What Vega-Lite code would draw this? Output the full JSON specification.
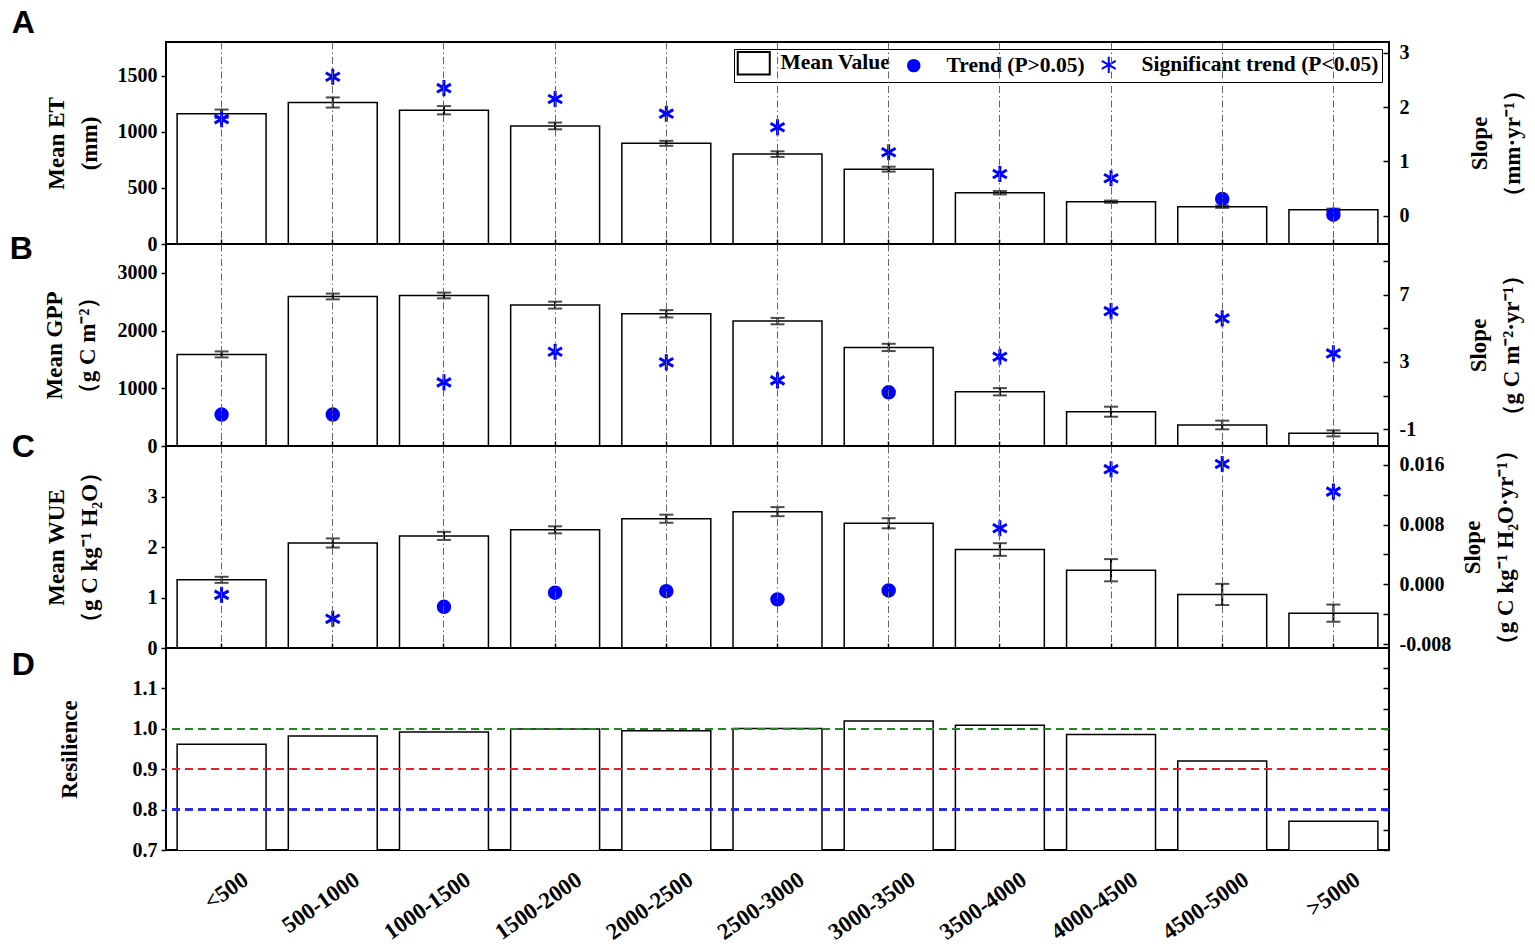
{
  "$schema": "https://vega.github.io/schema/vega-lite/v6.json",
  "padding": {"left": 8, "top": 6, "right": 2, "bottom": 4},
  "bounds": "flush",
  "spacing": 0,
  "datasets": {
    "zones": [
      {"cat": "<500", "et": 1160, "et_e": 38, "et_s": 1.78, "et_t": "Significant trend (P<0.05)", "gpp": 1587, "gpp_e": 52, "gpp_s": -0.13, "gpp_t": "Trend (P>0.05)", "wue": 1.35, "wue_e": 0.06, "wue_s": -0.0014, "wue_t": "Significant trend (P<0.05)", "res": 0.962},
      {"cat": "500-1000", "et": 1261, "et_e": 45, "et_s": 2.56, "et_t": "Significant trend (P<0.05)", "gpp": 2591, "gpp_e": 50, "gpp_s": -0.13, "gpp_t": "Trend (P>0.05)", "wue": 2.08, "wue_e": 0.09, "wue_s": -0.0046, "wue_t": "Significant trend (P<0.05)", "res": 0.982},
      {"cat": "1000-1500", "et": 1192, "et_e": 37, "et_s": 2.35, "et_t": "Significant trend (P<0.05)", "gpp": 2608, "gpp_e": 50, "gpp_s": 1.78, "gpp_t": "Significant trend (P<0.05)", "wue": 2.22, "wue_e": 0.08, "wue_s": -0.003, "wue_t": "Trend (P>0.05)", "res": 0.992},
      {"cat": "1500-2000", "et": 1052, "et_e": 30, "et_s": 2.15, "et_t": "Significant trend (P<0.05)", "gpp": 2441, "gpp_e": 60, "gpp_s": 3.6, "gpp_t": "Significant trend (P<0.05)", "wue": 2.34, "wue_e": 0.07, "wue_s": -0.0011, "wue_t": "Trend (P>0.05)", "res": 0.9995},
      {"cat": "2000-2500", "et": 897, "et_e": 22, "et_s": 1.88, "et_t": "Significant trend (P<0.05)", "gpp": 2291, "gpp_e": 63, "gpp_s": 2.97, "gpp_t": "Significant trend (P<0.05)", "wue": 2.56, "wue_e": 0.08, "wue_s": -0.0009, "wue_t": "Trend (P>0.05)", "res": 0.995},
      {"cat": "2500-3000", "et": 801, "et_e": 25, "et_s": 1.63, "et_t": "Significant trend (P<0.05)", "gpp": 2164, "gpp_e": 55, "gpp_s": 1.9, "gpp_t": "Significant trend (P<0.05)", "wue": 2.7, "wue_e": 0.09, "wue_s": -0.002, "wue_t": "Trend (P>0.05)", "res": 1.001},
      {"cat": "3000-3500", "et": 667, "et_e": 22, "et_s": 1.17, "et_t": "Significant trend (P<0.05)", "gpp": 1708, "gpp_e": 63, "gpp_s": 1.19, "gpp_t": "Trend (P>0.05)", "wue": 2.47, "wue_e": 0.1, "wue_s": -0.0008, "wue_t": "Trend (P>0.05)", "res": 1.019},
      {"cat": "3500-4000", "et": 457, "et_e": 15, "et_s": 0.77, "et_t": "Significant trend (P<0.05)", "gpp": 940, "gpp_e": 63, "gpp_s": 3.3, "gpp_t": "Significant trend (P<0.05)", "wue": 1.95, "wue_e": 0.125, "wue_s": 0.0075, "wue_t": "Significant trend (P<0.05)", "res": 1.009},
      {"cat": "4000-4500", "et": 377, "et_e": 10, "et_s": 0.69, "et_t": "Significant trend (P<0.05)", "gpp": 594, "gpp_e": 87, "gpp_s": 6.01, "gpp_t": "Significant trend (P<0.05)", "wue": 1.54, "wue_e": 0.22, "wue_s": 0.0154, "wue_t": "Significant trend (P<0.05)", "res": 0.986},
      {"cat": "4500-5000", "et": 332, "et_e": 10, "et_s": 0.31, "et_t": "Trend (P>0.05)", "gpp": 364, "gpp_e": 75, "gpp_s": 5.58, "gpp_t": "Significant trend (P<0.05)", "wue": 1.06, "wue_e": 0.21, "wue_s": 0.0161, "wue_t": "Significant trend (P<0.05)", "res": 0.92},
      {"cat": ">5000", "et": 305, "et_e": 10, "et_s": 0.02, "et_t": "Trend (P>0.05)", "gpp": 219, "gpp_e": 52, "gpp_s": 3.5, "gpp_t": "Significant trend (P<0.05)", "wue": 0.69, "wue_e": 0.17, "wue_s": 0.0124, "wue_t": "Significant trend (P<0.05)", "res": 0.771}
    ]
  },
  "data": {"name": "zones"},
  "resolve": {
    "scale": {"shape": "independent", "fill": "independent", "stroke": "independent"},
    "legend": {"shape": "independent", "fill": "independent", "stroke": "independent"}
  },
  "vconcat": [
    {
      "width": 1223,
      "height": 202,
      "title": {"text": "A", "orient": "left", "anchor": "end", "angle": 0, "align": "right", "baseline": "top", "font": "Liberation Sans", "fontSize": 32, "fontWeight": "bold", "color": "black", "offset": 0, "dx": 13, "dy": -34},
      "layer": [
        {
          "layer": [
            {
              "mark": {"type": "bar", "fill": "white", "stroke": "black", "strokeWidth": 1.5},
              "encoding": {
                "x": {"field": "cat", "type": "nominal", "sort": null, "scale": {"paddingInner": 0.2, "paddingOuter": 0.1},
                  "axis": {"orient": "bottom", "labels": false, "ticks": true, "tickSize": -5, "grid": true, "gridDash": [7, 3, 1.5, 3], "gridColor": "#666666", "gridWidth": 1, "title": null, "zindex": 1}},
                "y": {"field": "et", "type": "quantitative", "scale": {"domain": [0, 1800]},
                  "axis": {"orient": "left", "values": [0, 500, 1000, 1500], "format": "d", "tickSize": 5, "labelPadding": 4, "titlePadding": 16, "title": ["Mean ET", "(mm)"]}}
              }
            },
            {
              "mark": {"type": "errorbar", "color": "black", "ticks": {"size": 14, "thickness": 2, "color": "black"}, "rule": {"strokeWidth": 2, "color": "black"}},
              "encoding": {
                "x": {"field": "cat", "type": "nominal", "sort": null},
                "y": {"field": "et", "type": "quantitative", "axis": null},
                "yError": {"field": "et_e"}
              }
            }
          ],
          "resolve": {"axis": {"y": "independent"}}
        },
        {
          "mark": {"type": "point", "filled": true, "strokeWidth": 3, "size": 132, "opacity": 1},
          "encoding": {
            "x": {"field": "cat", "type": "nominal", "sort": null},
            "y": {"field": "et_s", "type": "quantitative", "scale": {"domain": [-0.52, 3.2]},
              "axis": {"orient": "right", "values": [0, 1, 2, 3], "format": "d", "tickSize": -6, "labelPadding": 16, "titlePadding": 26, "titleAngle": -90, "titleBaseline": "top", "title": ["Slope", "（mm·yr⁻¹）"]}},
            "shape": {"field": "et_t", "type": "nominal",
              "scale": {"domain": ["Mean Value", "Trend (P>0.05)", "Significant trend (P<0.05)"], "range": ["M-1.74,-1.96H3.83V1.96H-1.74Z", "circle", "M0,-1.4V1.4M-1.212,-0.7L1.212,0.7M-1.212,0.7L1.212,-0.7"]},
              "legend": {
                "orient": "top-right", "offset": 7, "direction": "horizontal", "title": null,
                "strokeColor": "black", "fillColor": "white", "padding": 3,
                "labelFont": "Liberation Serif", "labelFontWeight": "bold", "labelFontSize": 21.5, "labelColor": "black", "labelLimit": 400,
                "labelOffset": 22, "symbolSize": 132, "columnPadding": 12, "symbolStrokeWidth": 2
              }},
            "fill": {"field": "et_t", "type": "nominal",
              "scale": {"domain": ["Mean Value", "Trend (P>0.05)", "Significant trend (P<0.05)"], "range": ["white", "blue", "blue"]},
              "legend": {
                "orient": "top-right", "offset": 7, "direction": "horizontal", "title": null,
                "strokeColor": "black", "fillColor": "white", "padding": 3,
                "labelFont": "Liberation Serif", "labelFontWeight": "bold", "labelFontSize": 21.5, "labelColor": "black", "labelLimit": 400,
                "labelOffset": 22, "symbolSize": 132, "columnPadding": 12, "symbolStrokeWidth": 2
              }},
            "stroke": {"field": "et_t", "type": "nominal",
              "scale": {"domain": ["Mean Value", "Trend (P>0.05)", "Significant trend (P<0.05)"], "range": ["black", "blue", "blue"]},
              "legend": {
                "orient": "top-right", "offset": 7, "direction": "horizontal", "title": null,
                "strokeColor": "black", "fillColor": "white", "padding": 3,
                "labelFont": "Liberation Serif", "labelFontWeight": "bold", "labelFontSize": 21.5, "labelColor": "black", "labelLimit": 400,
                "labelOffset": 22, "symbolSize": 132, "columnPadding": 12, "symbolStrokeWidth": 2
              }}
          }
        }
      ],
      "resolve": {"scale": {"y": "independent"}}
    },
    {
      "width": 1223,
      "height": 202,
      "title": {"text": "B", "orient": "left", "anchor": "end", "angle": 0, "align": "right", "baseline": "top", "font": "Liberation Sans", "fontSize": 32, "fontWeight": "bold", "color": "black", "offset": 0, "dx": 13, "dy": -10},
      "layer": [
        {
          "layer": [
            {
              "mark": {"type": "bar", "fill": "white", "stroke": "black", "strokeWidth": 1.5},
              "encoding": {
                "x": {"field": "cat", "type": "nominal", "sort": null, "scale": {"paddingInner": 0.2, "paddingOuter": 0.1},
                  "axis": {"orient": "bottom", "labels": false, "ticks": true, "tickSize": -5, "grid": true, "gridDash": [7, 3, 1.5, 3], "gridColor": "#666666", "gridWidth": 1, "title": null, "zindex": 1}},
                "y": {"field": "gpp", "type": "quantitative", "scale": {"domain": [0, 3500]},
                  "axis": {"orient": "left", "values": [0, 1000, 2000, 3000], "format": "d", "tickSize": 5, "labelPadding": 4, "titlePadding": 18, "title": ["Mean GPP", "（g C m⁻²）"]}}
              }
            },
            {
              "mark": {"type": "errorbar", "color": "black", "ticks": {"size": 14, "thickness": 2, "color": "black"}, "rule": {"strokeWidth": 2, "color": "black"}},
              "encoding": {
                "x": {"field": "cat", "type": "nominal", "sort": null},
                "y": {"field": "gpp", "type": "quantitative", "axis": null},
                "yError": {"field": "gpp_e"}
              }
            }
          ],
          "resolve": {"axis": {"y": "independent"}}
        },
        {
          "mark": {"type": "point", "filled": true, "fill": "blue", "stroke": "blue", "strokeWidth": 3, "size": 132, "opacity": 1},
          "encoding": {
            "x": {"field": "cat", "type": "nominal", "sort": null},
            "y": {"field": "gpp_s", "type": "quantitative", "scale": {"domain": [-2, 10]},
              "axis": {"orient": "right", "values": [-1, 1, 3, 5, 7, 9], "format": "d", "labelExpr": "(datum.value + 1) % 4 === 0 ? replace(datum.label, '−', '-') : ''", "tickSize": -6, "labelPadding": 16, "titlePadding": 19, "titleAngle": -90, "titleBaseline": "top", "title": ["Slope", "（g C m⁻²·yr⁻¹）"]}},
            "shape": {"field": "gpp_t", "type": "nominal",
              "scale": {"domain": ["Mean Value", "Trend (P>0.05)", "Significant trend (P<0.05)"], "range": ["square", "circle", "M0,-1.4V1.4M-1.212,-0.7L1.212,0.7M-1.212,0.7L1.212,-0.7"]},
              "legend": null}
          }
        }
      ],
      "resolve": {"scale": {"y": "independent"}}
    },
    {
      "width": 1223,
      "height": 202,
      "title": {"text": "C", "orient": "left", "anchor": "end", "angle": 0, "align": "right", "baseline": "top", "font": "Liberation Sans", "fontSize": 32, "fontWeight": "bold", "color": "black", "offset": 0, "dx": 13, "dy": -6},
      "layer": [
        {
          "layer": [
            {
              "mark": {"type": "bar", "fill": "white", "stroke": "black", "strokeWidth": 1.5},
              "encoding": {
                "x": {"field": "cat", "type": "nominal", "sort": null, "scale": {"paddingInner": 0.2, "paddingOuter": 0.1},
                  "axis": {"orient": "bottom", "labels": false, "ticks": true, "tickSize": -5, "grid": true, "gridDash": [7, 3, 1.5, 3], "gridColor": "#666666", "gridWidth": 1, "title": null, "zindex": 1}},
                "y": {"field": "wue", "type": "quantitative", "scale": {"domain": [0, 3.78]},
                  "axis": {"orient": "left", "values": [0, 1, 2, 3], "format": "d", "tickSize": 5, "labelPadding": 4, "titlePadding": 46, "title": ["Mean WUE", "（g C kg⁻¹ H₂O）"]}}
              }
            },
            {
              "mark": {"type": "errorbar", "color": "black", "ticks": {"size": 14, "thickness": 2, "color": "black"}, "rule": {"strokeWidth": 2, "color": "black"}},
              "encoding": {
                "x": {"field": "cat", "type": "nominal", "sort": null},
                "y": {"field": "wue", "type": "quantitative", "axis": null},
                "yError": {"field": "wue_e"}
              }
            }
          ],
          "resolve": {"axis": {"y": "independent"}}
        },
        {
          "mark": {"type": "point", "filled": true, "fill": "blue", "stroke": "blue", "strokeWidth": 3, "size": 132, "opacity": 1},
          "encoding": {
            "x": {"field": "cat", "type": "nominal", "sort": null},
            "y": {"field": "wue_s", "type": "quantitative", "scale": {"domain": [-0.0085, 0.0185]},
              "axis": {"orient": "right", "values": [-0.008, -0.004, 0, 0.004, 0.008, 0.012, 0.016], "format": ".3f", "labelExpr": "round(abs(datum.value) * 1000) % 8 === 0 ? replace(datum.label, '−', '-') : ''", "tickSize": -6, "labelPadding": 16, "titlePadding": -22, "titleAngle": -90, "titleBaseline": "top", "title": ["Slope", "（g C kg⁻¹ H₂O·yr⁻¹）"]}},
            "shape": {"field": "wue_t", "type": "nominal",
              "scale": {"domain": ["Mean Value", "Trend (P>0.05)", "Significant trend (P<0.05)"], "range": ["square", "circle", "M0,-1.4V1.4M-1.212,-0.7L1.212,0.7M-1.212,0.7L1.212,-0.7"]},
              "legend": null}
          }
        }
      ],
      "resolve": {"scale": {"y": "independent"}}
    },
    {
      "width": 1223,
      "height": 202,
      "title": {"text": "D", "orient": "left", "anchor": "end", "angle": 0, "align": "right", "baseline": "top", "font": "Liberation Sans", "fontSize": 32, "fontWeight": "bold", "color": "black", "offset": 0, "dx": 0, "dy": 2},
      "layer": [
        {
          "mark": {"type": "bar", "fill": "white", "stroke": "black", "strokeWidth": 1.5, "clip": true},
          "encoding": {
            "x": {"field": "cat", "type": "nominal", "sort": null, "scale": {"paddingInner": 0.2, "paddingOuter": 0.1},
              "axis": {"orient": "bottom", "labelAngle": -35, "labelAlign": "right", "labelBaseline": "top", "labelOffset": 18, "labelPadding": 26, "labelFontSize": 23, "tickSize": -8, "grid": false, "title": null}},
            "y": {"field": "res", "type": "quantitative", "scale": {"domain": [0.7, 1.17], "zero": false},
              "axis": {"orient": "left", "values": [0.7, 0.8, 0.9, 1.0, 1.1], "format": ".1f", "tickSize": 5, "labelPadding": 4, "titlePadding": 51, "title": "Resilience"}}
          }
        },
        {
          "mark": {"type": "rule", "color": "#1f8a1f", "strokeDash": [8, 5], "strokeWidth": 1.5},
          "encoding": {"y": {"datum": 1.0, "axis": {"orient": "right", "labels": false, "title": null, "tickSize": -6, "values": [0.7, 0.75, 0.8, 0.85, 0.9, 0.95, 1.0, 1.05, 1.1, 1.15]}}}
        },
        {
          "mark": {"type": "rule", "color": "#e8202a", "strokeDash": [8, 5], "strokeWidth": 1.5},
          "encoding": {"y": {"datum": 0.9, "axis": null}}
        },
        {
          "mark": {"type": "rule", "color": "#2a2ae0", "strokeDash": [8, 5], "strokeWidth": 1.5},
          "encoding": {"y": {"datum": 0.8, "axis": null}}
        }
      ],
      "resolve": {"axis": {"y": "independent"}}
    }
  ],
  "config": {
    "view": {"stroke": "black", "strokeWidth": 2},
    "axis": {
      "domain": false,
      "grid": false,
      "labelFont": "Liberation Serif", "labelFontWeight": "bold", "labelFontSize": 20, "labelColor": "black",
      "titleFont": "Liberation Serif", "titleFontWeight": "bold", "titleFontSize": 23, "titleColor": "black", "titleLineHeight": 33,
      "tickColor": "black", "tickWidth": 1.5
    }
  }
}
